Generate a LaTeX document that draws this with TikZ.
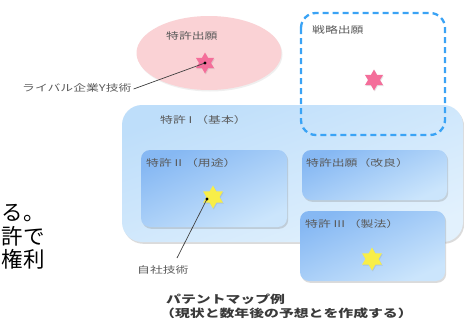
\documentclass[tikz,border=0pt]{standalone}
\usepackage{fontspec}
\usetikzlibrary{shapes.geometric,shadows}
\newfontfamily\jplab[FakeStretch=1.38]{Noto Sans CJK JP}
\newfontfamily\jpcap[FakeStretch=1.35]{Noto Sans CJK JP}
\newfontfamily\jpbig{Noto Sans CJK JP}
\definecolor{labgray}{HTML}{5A5A5A}
\definecolor{capgray}{HTML}{3A3A3A}
\definecolor{pinkfill}{HTML}{FAD2D5}
\definecolor{pinkstar}{HTML}{F46E9A}
\definecolor{yellowstar}{HTML}{F8EE48}
\definecolor{dashblue}{HTML}{3AA3F5}
\definecolor{bigA}{HTML}{BEDEFA}
\definecolor{bigB}{HTML}{E2F1FD}
\definecolor{inA}{HTML}{86B8F3}
\definecolor{inB}{HTML}{CBE5FC}
\tikzset{
  lab/.style={font=\jplab\fontsize{9.3}{11}\selectfont, text=labgray, anchor=west, inner sep=0pt},
  captxt/.style={font=\jpcap\bfseries\fontsize{11}{13}\selectfont, text=capgray, anchor=west, inner sep=0pt},
  bigtxt/.style={font=\jpbig\fontsize{21.5}{23}\selectfont, text=black, anchor=east, inner sep=0pt},
  starsix/.style={star, star points=6, star point ratio=1.75, draw=none, inner sep=0pt, minimum size=#1},
  softshadow/.style={drop shadow={opacity=0.28, shadow xshift=1.2pt, shadow yshift=-1.8pt}},
  innerbox/.style={rounded corners=9pt, top color=inA, bottom color=inB, shading angle=25, softshadow},
  leader/.style={draw=black!75, line width=0.7pt},
}
\begin{document}
\begin{tikzpicture}[x=1pt,y=-1pt]
\useasboundingbox (0,0) rectangle (464,324);
\fill[white] (0,0) rectangle (464,324);
\begin{scope}
\clip (0,0) rectangle (464,324);
% left fragment text
\node[bigtxt] (t1) at (45,213) {る。};
\node[bigtxt] (t2) at (45,236) {許で};
\node[bigtxt] (t3) at (45,259) {権利};
% big box
\path[rounded corners=20pt, top color=bigA, bottom color=bigB, shading angle=20, softshadow] (122,105) rectangle (463,242);
\node (bigbox) at (292,173) {};
\end{scope}
% pink ellipse
\node[ellipse, fill=pinkfill, minimum width=145pt, minimum height=74pt, inner sep=0pt, drop shadow={opacity=0.12, shadow xshift=1pt, shadow yshift=-1.5pt}] (ell) at (209,53) {};
\node[lab] (ellt) at (166,36) {特許出願};
\node[starsix=21pt, fill=pinkstar, drop shadow={opacity=0.2, shadow xshift=0.8pt, shadow yshift=-1pt}] (ps1) at (205,63) {};
\node[lab] (rival) at (22,88) {ライバル企業Y技術};
\draw[leader] (rival.east) ++(2pt,-1pt) coordinate (rv) -- (ps1.center);
\fill[black] (ps1.center) circle (1.7pt);
% inner boxes
\path[innerbox] (141,150) rectangle (287,227);
\node (box2) at (214,188) {};
\path[innerbox] (302,150) rectangle (447,200);
\node (boxk) at (374,175) {};
\path[innerbox] (300,211) rectangle (445,281);
\node (box3) at (372,246) {};
\node[lab] (b1t) at (160,120) {特許 I （基本）};
\node[lab] (b2t) at (146,163) {特許 II （用途）};
\node[lab] (bkt) at (306,163) {特許出願（改良）};
\node[lab] (b3t) at (305,224) {特許 III （製法）};
\node[starsix=23pt, fill=yellowstar, drop shadow={opacity=0.2, shadow xshift=0.8pt, shadow yshift=-1pt}] (ys1) at (213,197) {};
\node[starsix=23pt, fill=yellowstar, drop shadow={opacity=0.2, shadow xshift=0.8pt, shadow yshift=-1pt}] (ys2) at (372,259) {};
% dashed strategic box
\draw[dashblue, line width=2.3pt, dash pattern=on 6pt off 4pt, rounded corners=15pt] (301,13) rectangle (445,135);
\node[lab] (strt) at (312,30) {戦略出願};
\node[starsix=21pt, fill=pinkstar, drop shadow={opacity=0.2, shadow xshift=0.8pt, shadow yshift=-1pt}] (ps2) at (374,80) {};
% own tech
\node[lab] (own) at (137,270) {自社技術};
\coordinate (ownend) at (177,258);
\draw[leader] (ownend) -- (207,199);
\fill[black] (207,199) circle (1.7pt);
% caption
\node[captxt] (cap1) at (166,299) {パテントマップ例};
\node[captxt] (cap2) at (160,313) {（現状と数年後の予想とを作成する）};
\end{tikzpicture}
\end{document}
